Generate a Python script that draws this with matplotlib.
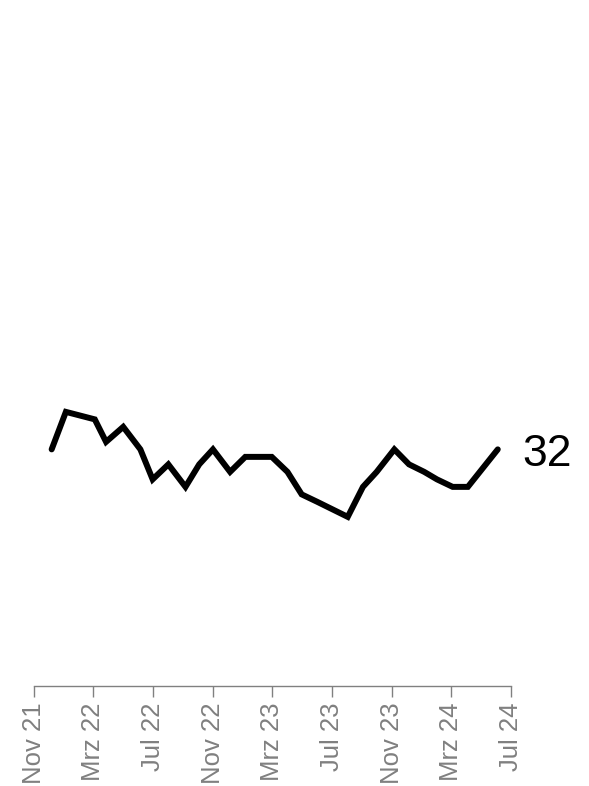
import matplotlib
matplotlib.use("Agg")
import matplotlib.pyplot as plt
import pandas as pd

dates = ["2021-12-07", "2022-01-05", "2022-03-05", "2022-03-28", "2022-05-02",
         "2022-06-06", "2022-07-01", "2022-08-02", "2022-09-06", "2022-10-04",
         "2022-11-01", "2022-12-06", "2023-01-06", "2023-03-01", "2023-04-02",
         "2023-05-01", "2023-06-02", "2023-08-03", "2023-09-03", "2023-10-01",
         "2023-11-06", "2023-12-06", "2024-01-06", "2024-02-01", "2024-03-04",
         "2024-04-04", "2024-06-04"]
values = [32, 37, 36, 33, 35, 32, 28, 30, 27, 30,
          32, 29, 31, 31, 29, 26, 25, 23, 27, 29,
          32, 30, 29, 28, 27, 27, 32]
tick_dates = ["2021-11-01", "2022-03-01", "2022-07-01", "2022-11-01", "2023-03-01",
              "2023-07-01", "2023-11-01", "2024-03-01", "2024-07-01"]
tick_labels = ["Nov 21", "Mrz 22", "Jul 22", "Nov 22", "Mrz 23",
               "Jul 23", "Nov 23", "Mrz 24", "Jul 24"]

x = pd.to_datetime(dates)
xt = pd.to_datetime(tick_dates)

plt.rcParams['font.family'] = ['Liberation Sans', 'DejaVu Sans']
fig = plt.figure(figsize=(5.89, 7.86), dpi=100)
W, H = 589, 786
ax = fig.add_axes([34 / W, (H - 686) / H, (511 - 34) / W, (686 - 11) / H])

ax.plot(x, values, color="black", linewidth=4.3, solid_joinstyle="miter", solid_capstyle="round")
ax.set_ylim(0.45, 90.45)
ax.set_xlim(xt[0], xt[-1])
ax.set_xticks(xt)
ax.set_xticklabels(tick_labels, rotation=90, color="#808080", fontsize=18.5)
ax.tick_params(axis="x", colors="#808080", length=8, width=1, pad=4, labelcolor="#808080")
ax.set_yticks([])
for s in ["top", "right", "left"]:
    ax.spines[s].set_visible(False)
ax.spines["bottom"].set_color("#808080")
ax.spines["bottom"].set_linewidth(1)

ax.annotate(str(values[-1]), xy=(x[-1], values[-1]), xytext=(18, -3.5),
            textcoords="offset points", ha="left", va="center", fontsize=32, color="black")

fig.savefig("out.png", dpi=100)
